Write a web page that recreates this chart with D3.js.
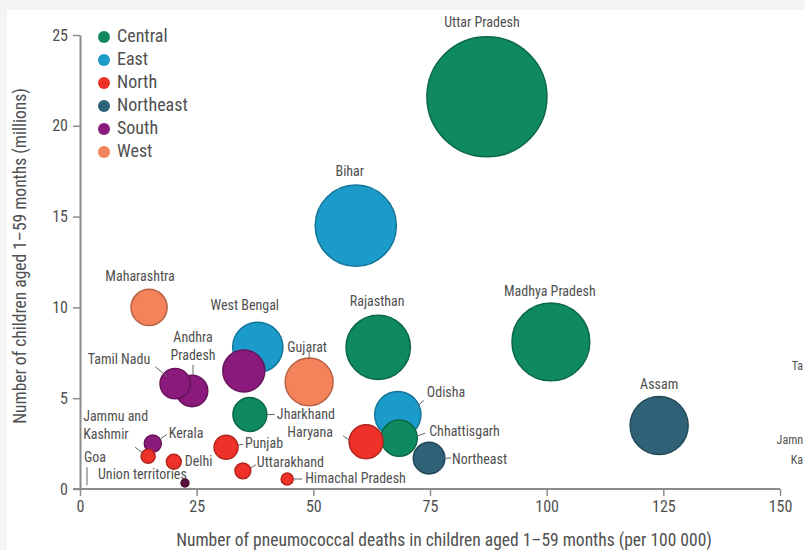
<!DOCTYPE html>
<meta charset="utf-8">
<script src="https://d3js.org/d3.v7.min.js"></script>
<style>
  body { margin: 0; background: #fff; }
  text { font-family: "Liberation Sans Narrow", "Roboto Condensed", "Arial Narrow", "Liberation Sans", sans-serif; fill: #505050; }
</style>
<body>
<div id="my_visual"></div>
<script>

// Data
var states  = ["Uttar Pradesh", "Bihar", "Madhya Pradesh", "Rajasthan", "Assam", "Odisha", "Chhattisgarh",
               "Haryana", "Northeast", "West Bengal", "Karnataka", "Gujarat", "Jharkhand", "Maharashtra",
               "Tamil Nadu", "Andhra Pradesh", "Kerala", "Jammu and Kashmir", "Delhi", "Punjab",
               "Uttarakhand", "Himachal Pradesh", "Union territories", "Goa"];
var regions = ["Central", "East", "Central", "Central", "Northeast", "East", "Central",
               "North", "Northeast", "East", "South", "West", "Central", "West",
               "South", "South", "South", "North", "North", "North",
               "North", "North", "UT", "West"];
// deaths per 100000 children aged 1-59 months
var deathRate = [87.2, 59.1, 100.9, 63.9, 124.1, 68.1, 68.4, 61.3, 74.8, 38.1, 35.1, 49.1, 36.4, 14.8,
                 20.4, 24.0, 15.6, 14.6, 20.1, 31.3, 34.9, 44.4, 22.5, 1.5];
// children aged 1-59 months (millions)
var children  = [21.6, 14.5, 8.1, 7.8, 3.5, 4.1, 2.8, 2.6, 1.7, 7.8, 6.5, 5.9, 4.1, 10.0,
                 5.8, 5.4, 2.5, 1.8, 1.5, 2.3, 1.0, 0.55, 0.33, 0.1];
// bubble size: pneumococcal deaths (thousands)
var deaths    = [18.8, 8.6, 7.9, 5.4, 4.4, 2.8, 1.7, 1.5, 1.3, 3.3, 2.3, 3.0, 1.5, 1.7,
                 1.2, 1.3, 0.38, 0.26, 0.29, 0.75, 0.33, 0.19, 0.08, 0.0];

var legendNames = ["Central", "East", "North", "Northeast", "South", "West"];
var legendColors = ["#0e8a5e", "#1b9bca", "#ee3129", "#2f6276", "#8a1a7c", "#f4835b"];
var xTicks = [0, 25, 50, 75, 100, 125, 150];
var yTicks = [0, 5, 10, 15, 20, 25];

var colorOf = d3.scaleOrdinal()
  .domain(legendNames.concat(["UT"]))
  .range(legendColors.concat(["#5a1040"]));

var data = states.map(function(s, i) {
  return {name: s, region: regions[i], x: deathRate[i], y: children[i], size: deaths[i]};
});

var W = 805, H = 550;
var margin = {top: 35, right: 25, bottom: 61, left: 80},
    width = W - margin.left - margin.right,
    height = H - margin.top - margin.bottom;

var LF = "14px";   // label font size

var svg0 = d3.select("#my_visual")
  .append("svg")
    .attr("width", W)
    .attr("height", H);

// faint scan border
svg0.append("rect").attr("x", 0).attr("y", 0).attr("width", W).attr("height", 10).attr("fill", "#f4f4f4");
svg0.append("rect").attr("x", 0).attr("y", 0).attr("width", 7).attr("height", H).attr("fill", "#f4f4f4");

var svg = svg0.append("g")
    .attr("transform", "translate(" + margin.left + "," + margin.top + ")");

var x = d3.scaleLinear().domain([0, 150]).range([0, width]);
var y = d3.scaleLinear().domain([0, 25]).range([height, 0]);
var r = d3.scaleSqrt().domain([0, 18.8]).range([0, 60]);

// X axis
var xAxis = svg.append("g")
  .attr("transform", "translate(0," + height + ")")
  .call(d3.axisBottom(x).tickValues(xTicks).tickSize(7).tickPadding(5).tickSizeOuter(0));
// Y axis
var yAxis = svg.append("g")
  .call(d3.axisLeft(y).tickValues(yTicks).tickSize(7).tickPadding(5).tickSizeOuter(0));

[xAxis, yAxis].forEach(function(a) {
  a.select(".domain").attr("stroke", "#8c8c8c").attr("stroke-width", 2);
  a.selectAll(".tick line").attr("stroke", "#8c8c8c").attr("stroke-width", 1.5);
  a.selectAll(".tick text").style("font-size", "16px").attr("fill", "#555");
});
xAxis.select(".domain").attr("d", "M-7,0H" + width);

svg.append("text")
  .attr("text-anchor", "middle")
  .attr("x", width / 2 + 14)
  .attr("y", height + 57)
  .style("font-size", "17.5px")
  .text("Number of pneumococcal deaths in children aged 1–59 months (per 100 000)");

svg.append("text")
  .attr("text-anchor", "middle")
  .attr("transform", "translate(" + (-54) + "," + (height / 2 - 6) + ") rotate(-90)")
  .style("font-size", "17.5px")
  .text("Number of children aged 1–59 months (millions)");

// Bubbles, largest first
var sorted = data.slice().sort(function(a, b) { return b.size - a.size; });
svg.append("g")
  .selectAll("circle")
  .data(sorted.filter(function(d) { return d.size > 0; }))
  .enter()
  .append("circle")
    .attr("cx", function(d) { return x(d.x); })
    .attr("cy", function(d) { return y(d.y); })
    .attr("r", function(d) { return r(d.size); })
    .attr("fill", function(d) { return colorOf(d.region); })
    .attr("stroke", function(d) { return d3.color(colorOf(d.region)).darker(0.8); })
    .attr("stroke-width", 1.5);

// Labels: offsets in px from the bubble centre, anchor, and optional leader line
var labelOpts = {
  "Uttar Pradesh":   {dx: -5,  dy: -73, a: "middle"},
  "Bihar":           {dx: -6,  dy: -53, a: "middle"},
  "Madhya Pradesh":  {dx: -1,  dy: -50, a: "middle"},
  "Rajasthan":       {dx: -1,  dy: -45, a: "middle"},
  "Assam":           {dx: 0,   dy: -40, a: "middle"},
  "Odisha":          {dx: 29,  dy: -21, a: "start", line: [20, -9, 26, -14]},
  "Chhattisgarh":    {dx: 30,  dy: -6,  a: "start", line: [18, -2, 26, -5]},
  "Haryana":         {dx: -33, dy: -8,  a: "end",   line: [-17, -2, -23, -6]},
  "Northeast":       {dx: 23,  dy: 2,   a: "start", line: [15, 0, 22, 0]},
  "West Bengal":     {dx: -13, dy: -41, a: "middle"},
  "Gujarat":         {dx: -2,  dy: -34, a: "middle", line: [0, -24, 0, -30]},
  "Jharkhand":       {dx: 27,  dy: 1,   a: "start", line: [17, 0, 25, 0]},
  "Maharashtra":     {dx: -9,  dy: -30, a: "middle"},
  "Tamil Nadu":      {dx: -25, dy: -23, a: "end", line: [-8, -7, -20, -17]},
  "Kerala":          {dx: 16,  dy: -9,  a: "start", line: [8, -5, 14, -9]},
  "Jammu and Kashmir": {dx: -65, dy: -39, a: "start", line: [-5, -3, -13, -9]},
  "Delhi":           {dx: 11,  dy: 1,   a: "start"},
  "Punjab":          {dx: 19,  dy: -3,  a: "start", line: [12, -2, 17, -3]},
  "Uttarakhand":     {dx: 14,  dy: -8,  a: "start", line: [8, -3, 13, -6]},
  "Himachal Pradesh":{dx: 18,  dy: 0,   a: "start", line: [6, 0, 15, 0]},
  "Union territories": {dx: -87, dy: -8, a: "start"},
  "Goa":             {dx: -3,  dy: -29, a: "start", line: [0, -2, 0, -20]}
};

var lab = svg.append("g");
data.forEach(function(d) {
  var o = labelOpts[d.name];
  if (!o) return;
  var cx = x(d.x), cy = y(d.y);
  if (o.line) {
    lab.append("line")
      .attr("x1", cx + o.line[0]).attr("y1", cy + o.line[1])
      .attr("x2", cx + o.line[2]).attr("y2", cy + o.line[3])
      .attr("stroke", "#666").attr("stroke-width", 1);
  }
  var t = lab.append("text")
    .attr("x", cx + o.dx)
    .attr("y", cy + o.dy)
    .attr("text-anchor", o.a)
    .attr("dominant-baseline", "middle")
    .style("font-size", LF);
  if (d.name === "Jammu and Kashmir") {
    t.text("Jammu and");
    lab.append("text").attr("x", cx + o.dx).attr("y", cy + o.dy + 18)
      .attr("dominant-baseline", "middle").style("font-size", LF).text("Kashmir");
  } else {
    t.text(d.name);
  }
});
// Andhra Pradesh label on two lines with a short leader
(function() {
  var d = data.filter(function(e) { return e.name === "Andhra Pradesh"; })[0];
  var cx = x(d.x), cy = y(d.y);
  lab.append("text").attr("x", cx + 1).attr("y", cy - 53).attr("text-anchor", "middle")
    .attr("dominant-baseline", "middle").style("font-size", LF).text("Andhra");
  lab.append("text").attr("x", cx + 1).attr("y", cy - 35).attr("text-anchor", "middle")
    .attr("dominant-baseline", "middle").style("font-size", LF).text("Pradesh");
  lab.append("line").attr("x1", cx + 1).attr("y1", cy - 26).attr("x2", cx + 1).attr("y2", cy - 16)
    .attr("stroke", "#666").attr("stroke-width", 1);
})();

// Legend
var legend = svg0.append("g").attr("transform", "translate(104,37)");
legendNames.forEach(function(n, i) {
  legend.append("circle").attr("cx", 0).attr("cy", i * 23).attr("r", 6)
    .attr("fill", legendColors[i]);
  legend.append("text").attr("x", 13).attr("y", i * 23)
    .attr("dominant-baseline", "middle").style("font-size", "18px").attr("fill", "#444").text(n);
});

// remains of the neighbouring panel's labels at the right edge
svg0.append("text").attr("x", 803).attr("y", 367).attr("text-anchor", "end").attr("dominant-baseline", "middle")
  .style("font-size", "12px").text("Ta");
svg0.append("text").attr("x", 803).attr("y", 441).attr("text-anchor", "end").attr("dominant-baseline", "middle")
  .style("font-size", "12px").text("Jamn");
svg0.append("text").attr("x", 803).attr("y", 461).attr("text-anchor", "end").attr("dominant-baseline", "middle")
  .style("font-size", "12px").text("Ka");

</script>
</body>
